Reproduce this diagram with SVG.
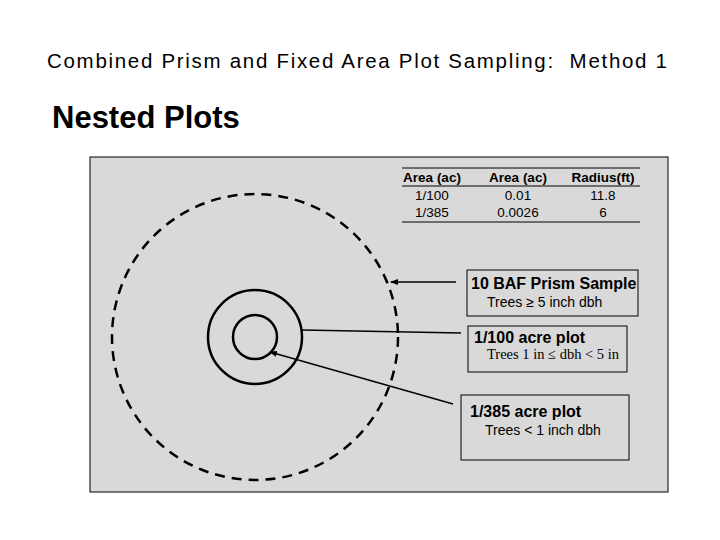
<svg xmlns="http://www.w3.org/2000/svg" width="720" height="540" viewBox="0 0 720 540">
<style>
text{font-family:"Liberation Sans",Arial,sans-serif;fill:#000}
.t{font-size:13.5px;text-anchor:middle}
.h{font-weight:bold}
.c{fill:none;stroke:#000;stroke-width:2.5}
.box{fill:none;stroke:#000;stroke-width:1}
.ln{stroke:#000;stroke-width:1.3;fill:none}
</style>
<defs><marker id="a" markerWidth="8" markerHeight="6" refX="7" refY="3" orient="auto" markerUnits="userSpaceOnUse"><path d="M0,0L8,3L0,6z" fill="#000"/></marker></defs>
<rect width="720" height="540" fill="#fff"/>
<text x="47" y="68" font-size="20.5" textLength="620" xml:space="preserve">Combined Prism and Fixed Area Plot Sampling:  Method 1</text>
<text x="52" y="128" font-size="31" font-weight="bold">Nested Plots</text>
<rect x="90" y="157" width="578" height="335" fill="#d9d9d9" stroke="#000" stroke-width="1"/>
<g id="table">
<line x1="402" y1="168" x2="640" y2="168" stroke="#000"/>
<line x1="402" y1="186" x2="640" y2="186" stroke="#000"/>
<line x1="402" y1="222" x2="640" y2="222" stroke="#000"/>
<text class="t h" x="432" y="182">Area (ac)</text><text class="t h" x="518" y="182">Area (ac)</text><text class="t h" x="603" y="182">Radius(ft)</text>
<text class="t" x="432" y="200">1/100</text><text class="t" x="518" y="200">0.01</text><text class="t" x="603" y="200">11.8</text>
<text class="t" x="432" y="217">1/385</text><text class="t" x="518" y="217">0.0026</text><text class="t" x="603" y="217">6</text>
</g>
<g id="prism"><circle class="c" cx="255" cy="337" r="143" stroke-dasharray="10,7"/></g>
<g id="plot100"><circle class="c" cx="255" cy="337" r="47"/></g>
<g id="plot385"><circle class="c" cx="255" cy="337" r="22"/></g>
<g id="connectors">
<line class="ln" x1="456" y1="282" x2="391" y2="282" marker-end="url(#a)"/>
<line class="ln" x1="461" y1="333" x2="302" y2="330"/>
<line class="ln" x1="453" y1="404" x2="270" y2="352" marker-end="url(#a)"/>
</g>
<g id="box1"><rect class="box" x="467" y="270" width="171" height="46"/>
<text x="471" y="289" font-size="16" class="h">10 BAF Prism Sample</text>
<text x="487" y="307" font-size="14">Trees ≥ 5 inch dbh</text></g>
<g id="box2"><rect class="box" x="468" y="326" width="159" height="46"/>
<text x="474" y="343" font-size="16" class="h">1/100 acre plot</text>
<text x="487" y="359" font-size="14.5" style="font-family:'Liberation Serif',serif">Trees 1 in ≤ dbh &lt; 5 in</text></g>
<g id="box3"><rect class="box" x="461" y="395" width="168" height="65"/>
<text x="470" y="417" font-size="16" class="h">1/385 acre plot</text>
<text x="485" y="435" font-size="14">Trees &lt; 1 inch dbh</text></g>
</svg>
